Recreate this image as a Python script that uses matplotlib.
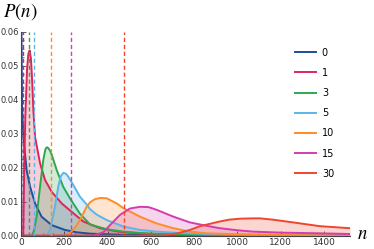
import matplotlib
matplotlib.use("Agg")
import matplotlib.pyplot as plt
from matplotlib.ticker import MultipleLocator

# series labels and colours
labels = ["0", "1", "3", "5", "10", "15", "30"]
colors = ["#1f4e9b", "#e0245a", "#2ea84c", "#5ab6ea", "#ff8c28", "#d43cb0", "#f0452e"]

# values (n, P(n))
n0 = [0, 2, 5, 11, 26, 42, 65, 95, 142, 203, 257, 320, 450, 700, 1520]
p0 = [0.12, 0.06, 0.038, 0.029, 0.0193, 0.0144, 0.0095, 0.0056, 0.0031, 0.0017,
      0.001, 0.0006, 0.0003, 0.0001, 0.0]

n1 = [0, 10, 15, 20, 28, 34, 40, 46, 52, 57, 65, 80, 88, 111, 142, 188, 242, 287, 365, 450, 600, 1520]
p1 = [0.0, 0.0, 0.02, 0.035, 0.049, 0.0535, 0.0545, 0.052, 0.045, 0.037, 0.029, 0.024, 0.0213, 0.0164,
      0.0129, 0.0095, 0.0066, 0.0042, 0.0022, 0.0012, 0.0004, 0.0]

n3 = [0, 50, 60, 72, 88, 103, 112, 116, 121, 127, 134, 142, 165, 195, 226, 272, 319, 396, 473, 550, 650, 850, 1520]
p3 = [0.0, 0.0, 0.0015, 0.0056, 0.0144, 0.0223, 0.0252, 0.0258, 0.026, 0.0257, 0.025, 0.0238, 0.0193, 0.0144,
      0.011, 0.0065, 0.0033, 0.0019, 0.0012, 0.0008, 0.0005, 0.0002, 0.0]

n5 = [0, 120, 134, 157, 172, 184, 196, 208, 218, 242, 272, 303, 319, 350, 396, 473, 550, 627, 704, 850, 1000, 1520]
p5 = [0.0, 0.0, 0.0017, 0.0085, 0.0144, 0.0175, 0.0185, 0.0182, 0.0174, 0.0149, 0.0115, 0.0092, 0.0078,
      0.0062, 0.0046, 0.0027, 0.0017, 0.0012, 0.0009, 0.0005, 0.0003, 0.0]

n10 = [0, 200, 230, 257, 280, 303, 319, 340, 365, 396, 442, 473, 550, 627, 704, 781, 858, 1000, 1200, 1520]
p10 = [0.0, 0.0, 0.001, 0.003, 0.0055, 0.0085, 0.0098, 0.0107, 0.0111, 0.011, 0.0095, 0.0081, 0.0056,
       0.0036, 0.0022, 0.0012, 0.0007, 0.0004, 0.0002, 0.0001]

n15 = [0, 330, 380, 411, 457, 503, 550, 590, 627, 704, 781, 858, 919, 1000, 1072, 1200, 1381, 1520]
p15 = [0.0, 0.0, 0.001, 0.0031, 0.0061, 0.008, 0.0085, 0.0084, 0.0076, 0.0056, 0.0039, 0.0029, 0.0022,
       0.0016, 0.0012, 0.0009, 0.0007, 0.0005]

n30 = [0, 640, 673, 730, 781, 827, 873, 920, 960, 1011, 1073, 1104, 1166, 1258, 1381, 1520]
p30 = [0.0, 0.0, 0.0002, 0.0008, 0.0017, 0.0028, 0.0035, 0.0042, 0.0047, 0.005, 0.0051, 0.0051, 0.0047,
       0.0039, 0.0028, 0.0022]

means = [0, 11, 38, 62, 137, 231, 477]

ns = [n0, n1, n3, n5, n10, n15, n30]
ps = [p0, p1, p3, p5, p10, p15, p30]

plt.rcParams["mathtext.fontset"] = "stix"
plt.rcParams["font.family"] = "DejaVu Sans"

fig = plt.figure(figsize=(3.74, 2.49), dpi=100)
ax = fig.add_axes([21 / 374, 13.3 / 249, 329 / 374, 204 / 249])

for n, p, c, lab in zip(ns, ps, colors, labels):
    ax.fill_between(n, p, 0, color=c, alpha=0.22, linewidth=0)
    ax.plot(n, p, color=c, linewidth=1.4, label=lab)

for m, c in zip(means, colors):
    ax.axvline(m, color=c, linestyle=(0, (3, 2)), linewidth=1.0)

ax.set_xlim(0, 1520)
ax.set_ylim(0, 0.06)
ax.xaxis.set_major_locator(MultipleLocator(200))
ax.xaxis.set_minor_locator(MultipleLocator(50))
ax.yaxis.set_major_locator(MultipleLocator(0.01))
ax.yaxis.set_minor_locator(MultipleLocator(0.0025))
ax.yaxis.set_major_formatter(plt.FuncFormatter(lambda v, _: f"{v:.2f}"))

for s in ["top", "right"]:
    ax.spines[s].set_visible(False)
for s in ["left", "bottom"]:
    ax.spines[s].set_color("#444444")
    ax.spines[s].set_linewidth(0.8)

ax.tick_params(direction="in", which="major", length=3.5, width=0.6, colors="#444444",
               labelsize=6.5, labelcolor="#333333", pad=2)
ax.tick_params(axis="y", which="major", labelsize=6.0, pad=1.2)
ax.tick_params(direction="in", which="minor", length=2, width=0.5, colors="#444444")

fig.text(3 / 374, 1 - 12 / 249, "$P(n)$", fontsize=13.5, va="center", ha="left")
fig.text(357 / 374, 1 - 233 / 249, "$n$", fontsize=13.5, va="center", ha="left")

leg = ax.legend(loc="upper left", bbox_to_anchor=(0.805, 0.965), frameon=False, fontsize=7,
                handlelength=2.2, labelspacing=1.05, handletextpad=0.6)

fig.savefig("out.png", dpi=100)
